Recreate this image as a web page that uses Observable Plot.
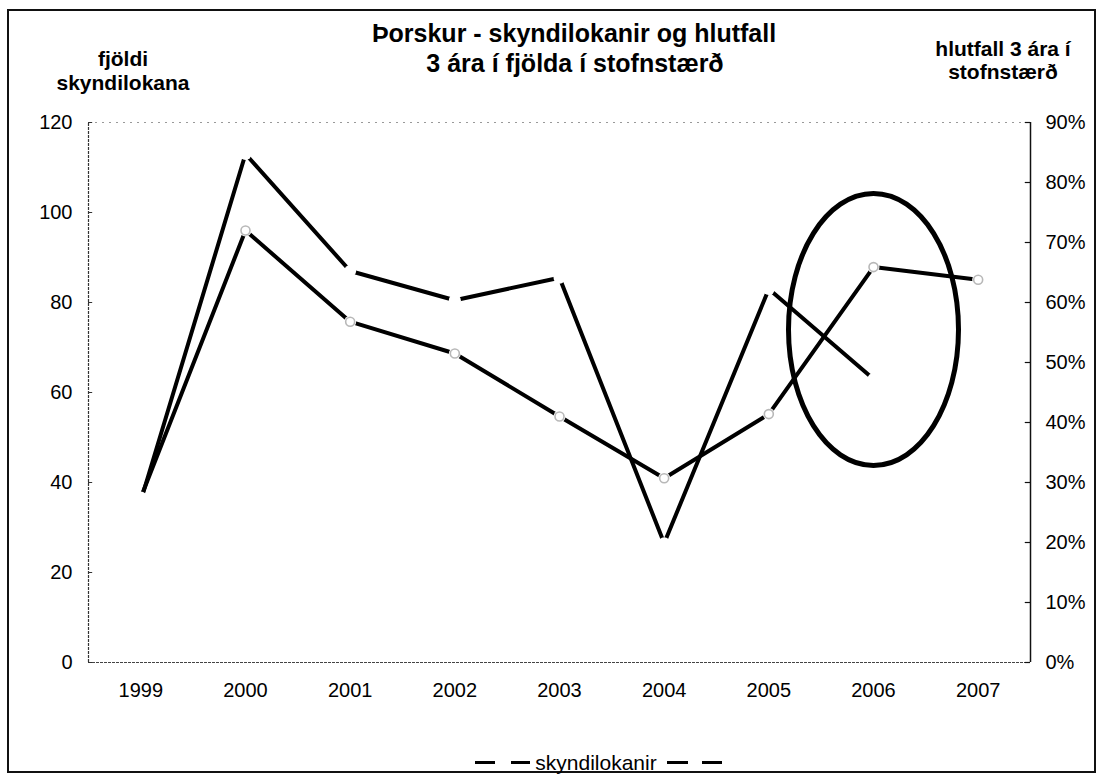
<!DOCTYPE html>
<html><head><meta charset="utf-8">
<script src="https://cdn.jsdelivr.net/npm/d3@7"></script>
<script src="https://cdn.jsdelivr.net/npm/@observablehq/plot@0.6"></script>
<style>
body{margin:0;background:#fff;font-family:"Liberation Sans",Arial,sans-serif;}
#wrap{position:relative;width:1106px;height:779px;overflow:hidden;background:#fff;}
#wrap svg{position:absolute;left:0;top:0;overflow:visible;}
.t{position:absolute;color:#000;white-space:nowrap;transform:translate(-50%,-50%);line-height:1;}
.b{font-weight:bold;}
.dash{position:absolute;height:3px;background:#000;}
#frame{position:absolute;left:7px;top:9px;width:1089px;height:764px;border:2px solid #111;box-sizing:border-box;}
</style></head><body>
<div id="wrap"><div id="frame"></div></div>
<script>
const years = [1999, 2000, 2001, 2002, 2003, 2004, 2005, 2006, 2007];
const skyndilokanir = [36, 113, 87, 80.5, 85.5, 26.5, 83, 63, null];
const hlutfall = [0.275, 0.72, 0.568, 0.515, 0.41, 0.307, 0.414, 0.659, 0.638];
const leftTicks = [0, 20, 40, 60, 80, 100, 120];
const rightTicks = [0, 0.1, 0.2, 0.3, 0.4, 0.5, 0.6, 0.7, 0.8, 0.9];
const titleLines = ["Þorskur - skyndilokanir og hlutfall", "3 ára í fjölda í stofnstærð"];
const leftTitle = ["fjöldi", "skyndilokana"];
const rightTitle = ["hlutfall 3 ára í", "stofnstærð"];
const legendLabel = "skyndilokanir";
const highlightYear = 2006;
const highlightShare = 0.555;

const table = years.map((year, i) => ({year, v: skyndilokanir[i], p: hlutfall[i]}));

const W = 1106, H = 779;
const x0 = years[0] - 0.5, x1 = years[years.length - 1] + 0.5;
const common = {
  width: W, height: H,
  marginLeft: 88, marginRight: 76, marginTop: 122, marginBottom: 117,
  style: {background: "transparent", fontFamily: "Liberation Sans, Arial, sans-serif", overflow: "visible"}
};

const p1 = Plot.plot({
  ...common,
  x: {type: "linear", domain: [x0, x1]},
  y: {domain: [0, 120]},
  marks: [
    Plot.ruleY([120], {x1: x0, x2: x1, stroke: "#999", strokeWidth: 1, strokeDasharray: "2,5"}),
    Plot.ruleY([0], {x1: x0, x2: x1, stroke: "#444", strokeWidth: 1.2, strokeDasharray: "3,1"}),
    Plot.ruleX([x0], {y1: 0, y2: 120, stroke: "#333", strokeWidth: 1.2, strokeDasharray: "3,1"}),
    Plot.ruleY(leftTicks, {x1: x0, x2: x0 + 0.04, stroke: "#333", strokeWidth: 1}),
    Plot.axisY({ticks: leftTicks, tickSize: 0, tickPadding: 16, fontSize: 20, tickFormat: d => String(d), label: null}),
    Plot.axisX({ticks: years, tickSize: 0, tickPadding: 20, fontSize: 20, tickFormat: d => String(d), label: null}),
    Plot.line(table, {x: "year", y: "v", stroke: "#000", strokeWidth: 4}),
    Plot.dot(table.filter(d => d.v != null), {x: "year", y: "v", r: 6, fill: "white"})
  ]
});

const ellipseSymbol = {
  draw(ctx) {
    const rx = 85, ry = 136, k = 0.5523;
    ctx.moveTo(rx, 0);
    ctx.bezierCurveTo(rx, ry * k, rx * k, ry, 0, ry);
    ctx.bezierCurveTo(-rx * k, ry, -rx, ry * k, -rx, 0);
    ctx.bezierCurveTo(-rx, -ry * k, -rx * k, -ry, 0, -ry);
    ctx.bezierCurveTo(rx * k, -ry, rx, -ry * k, rx, 0);
    ctx.closePath();
  }
};

const p2 = Plot.plot({
  ...common,
  x: {type: "linear", domain: [x0, x1], axis: null},
  y: {domain: [0, 0.9]},
  marks: [
    Plot.ruleX([x1], {y1: 0, y2: 0.9, stroke: "#111", strokeWidth: 1.5}),
    Plot.ruleY(rightTicks, {x1: x1 - 0.05, x2: x1, stroke: "#111", strokeWidth: 1.2}),
    Plot.axisY({anchor: "right", ticks: rightTicks, tickSize: 0, tickPadding: 15, fontSize: 20, tickFormat: d => Math.round(d * 100) + "%", label: null}),
    Plot.line(table, {x: "year", y: "p", stroke: "#000", strokeWidth: 4}),
    Plot.dot(table, {x: "year", y: "p", r: 6, fill: "white"}),
    Plot.dot(table.slice(1), {x: "year", y: "p", r: 4.5, fill: "white", stroke: "#b8b8b8", strokeWidth: 1.6}),
    Plot.dot([{year: highlightYear, p: highlightShare}], {x: "year", y: "p", symbol: ellipseSymbol, r: 10, fill: "none", stroke: "#000", strokeWidth: 5})
  ]
});

const wrap = document.getElementById("wrap");
wrap.appendChild(p1);
wrap.appendChild(p2);

function addText(txt, cx, cy, size, bold) {
  const d = document.createElement("div");
  d.className = "t" + (bold ? " b" : "");
  d.textContent = txt;
  d.style.left = cx + "px";
  d.style.top = cy + "px";
  d.style.fontSize = size + "px";
  wrap.appendChild(d);
}
addText(titleLines[0], 574, 33, 25, true);
addText(titleLines[1], 575, 63, 25, true);
addText(leftTitle[0], 123, 58, 21, true);
addText(leftTitle[1], 123, 82, 21, true);
addText(rightTitle[0], 1003, 48, 21, true);
addText(rightTitle[1], 1003, 71, 21, true);
addText(legendLabel, 596, 762, 21, false);
[[475, 20], [511, 19], [667, 21], [702, 20]].forEach(([l, w]) => {
  const s = document.createElement("div");
  s.className = "dash";
  s.style.left = l + "px"; s.style.width = w + "px"; s.style.top = "761px";
  wrap.appendChild(s);
});
</script>
</body></html>
